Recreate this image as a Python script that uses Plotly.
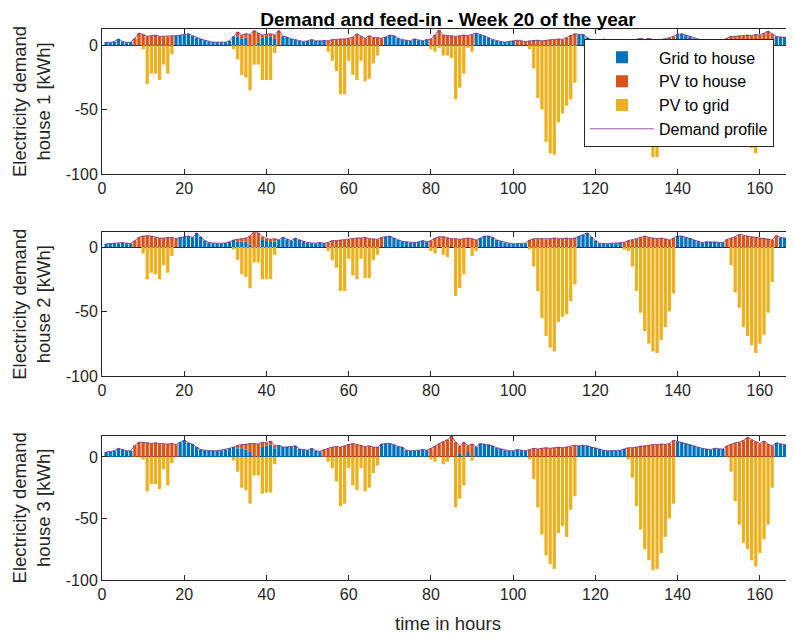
import plotly.graph_objects as go

hours = list(range(1, 169))
x_ticks = [0, 20, 40, 60, 80, 100, 120, 140, 160]
y_ticks = [-100, -50, 0]
y_ticktext = ["-100", "-50", "0"]

# ---------------- House 1 ----------------
grid_h1 = [
    2.5, 2.3, 3.0, 5.0, 3.0, 2.3, 2.5, 0, 0, 0, 0, 0, 0, 0, 0, 0, 0, 7.5, 8.0, 8.5, 9.0, 7.5, 6.0, 5.0,
    4.0, 3.0, 2.5, 2.5, 2.3, 2.5, 3.5, 7.0, 7.0, 5.0, 6.0, 0, 0, 2.0, 6.0, 7.0, 7.0, 5.0, 0, 7.0, 6.5, 5.0, 4.5, 3.5,
    3.0, 3.5, 4.5, 3.5, 3.5, 4.0, 0, 0, 0, 0, 0, 0, 0, 0, 0, 0, 0, 0, 0, 0, 6.5, 8.0, 7.5, 5.5,
    4.5, 4.0, 3.5, 5.0, 4.0, 3.5, 4.5, 0, 0, 0, 0, 0, 0, 0, 0, 0, 0, 0, 9.5, 8.5, 7.5, 6.0, 4.5, 3.5,
    3.0, 2.5, 3.0, 3.5, 0, 0, 0, 0, 0, 0, 0, 0, 0, 0, 0, 0, 0, 0, 0, 8.5, 8.5, 6.0, 4.5, 4.0,
    3.5, 5.0, 3.5, 3.0, 2.5, 2.5, 3.0, 0, 0, 0, 0, 0, 0, 0, 0, 0, 0, 0, 0, 8.5, 9.0, 8.0, 7.0, 5.5,
    4.5, 4.0, 3.5, 4.0, 4.5, 4.0, 4.0, 0, 0, 0, 0, 0, 0, 0, 0, 0, 0, 0, 0, 7.0, 6.5, 6.5, 6.0, 5.5,
]
pvhouse_h1 = [
    0, 0, 0, 0, 0, 0, 0, 5.5, 9.5, 8.5, 7.0, 7.5, 8.0, 7.0, 7.0, 7.0, 7.5, 0, 0, 0, 0, 0, 0, 0,
    0, 0, 0, 0, 0, 0, 0, 0, 3.5, 3.0, 3.0, 8.5, 11.5, 7.5, 2.0, 1.5, 2.0, 3.0, 11.5, 0, 0, 0, 0, 0,
    0, 0, 0, 0, 0, 0, 3.5, 4.5, 4.5, 5.0, 5.0, 5.5, 6.5, 9.0, 7.0, 5.5, 7.5, 6.0, 6.0, 5.5, 0, 0, 0, 0,
    0, 0, 0, 0, 0, 0, 0, 5.0, 8.0, 12.0, 8.0, 7.5, 7.5, 7.0, 7.5, 8.0, 7.5, 8.5, 0, 0, 0, 0, 0, 0,
    0, 0, 0, 0, 4.0, 3.5, 3.0, 3.5, 4.0, 4.0, 3.5, 4.0, 4.5, 4.5, 5.0, 4.5, 6.0, 8.0, 9.0, 0, 0, 0, 0, 0,
    0, 0, 0, 0, 0, 0, 0, 3.0, 4.0, 5.0, 5.5, 4.5, 5.5, 4.5, 4.0, 4.5, 5.0, 6.0, 7.0, 0, 0, 0, 0, 0,
    0, 0, 0, 0, 0, 0, 0, 5.5, 7.0, 7.0, 7.5, 7.5, 8.0, 7.5, 8.5, 8.0, 9.5, 11.0, 9.0, 0, 0, 0, 0, 0,
]
pvgrid_h1 = [
    0, 0, 0, 0, 0, 0, 0, 0, 0, -3, -30, -22, -22, -27, -15, -22, -7, 0, 0, 0, 0, 0, 0, 0,
    0, 0, 0, 0, 0, 0, 0, -3, -11, -23, -25, -35, -15, -15, -27, -27, -27, -6, 0, 0, 0, 0, 0, 0,
    0, 0, 0, 0, 0, 0, -5, -12, -20, -38, -38, -12, -23, -27, -12, -28, -26, -14, -8, 0, 0, 0, 0, 0,
    0, 0, 0, 0, 0, 0, 0, -3, -5, -2, -8, -8, -10, -42, -33, -22, -2, -5, 0, 0, 0, 0, 0, 0,
    0, 0, 0, 0, 0, 0, 0, -3, -18, -41, -50, -75, -84, -85, -60, -53, -47, -42, -29, 0, 0, 0, 0, 0,
    0, 0, 0, 0, 0, 0, 0, -3, -16, -36, -54, -68, -78, -87, -87, -76, -68, -40, -12, 0, 0, 0, 0, 0,
    0, 0, 0, 0, 0, 0, 0, -3, -14, -35, -48, -62, -72, -80, -84, -74, -68, -50, -26, 0, 0, 0, 0, 0,
]

# ---------------- House 2 ----------------
grid_h2 = [
    2.5, 2.8, 3.0, 3.0, 3.5, 3.0, 2.8, 0, 0, 0, 0, 0, 0, 0, 0, 0, 0, 0, 7.5, 8.0, 8.5, 7.5, 10.8, 8.0,
    5.0, 3.5, 3.0, 3.0, 3.0, 3.2, 4.0, 5.5, 4.0, 4.0, 4.0, 2.0, 0, 0, 6.0, 5.0, 4.5, 4.0, 5.5, 7.5, 6.0, 5.0, 7.0, 5.5,
    4.5, 3.5, 3.0, 3.0, 3.5, 3.0, 0, 0, 0, 0, 0, 0, 0, 0, 0, 0, 0, 0, 0, 0, 8.0, 8.5, 7.0, 5.5,
    4.5, 4.0, 3.5, 3.5, 4.0, 5.0, 4.0, 0, 0, 0, 0, 0, 0, 0, 0, 0, 0, 0, 0, 7.0, 8.5, 8.5, 7.5, 5.5,
    4.5, 3.5, 3.0, 2.5, 2.5, 2.5, 3.0, 0, 0, 0, 0, 0, 0, 0, 0, 0, 0, 0, 0, 8.5, 9.5, 11.0, 8.0, 5.0,
    3.0, 2.5, 2.5, 3.0, 3.0, 3.5, 0, 0, 0, 0, 0, 0, 0, 0, 0, 0, 0, 0, 0, 8.5, 8.5, 7.5, 7.0, 5.5,
    4.5, 3.5, 4.0, 4.0, 4.0, 3.5, 3.5, 0, 0, 0, 0, 0, 0, 0, 0, 0, 0, 0, 0, 0, 7.5, 7.0, 7.0, 7.5,
]
pvhouse_h2 = [
    0, 0, 0, 0, 0, 0, 0, 5.0, 7.5, 8.5, 8.8, 8.5, 7.5, 7.0, 7.0, 7.5, 7.5, 6.5, 0, 0, 0, 0, 0, 0,
    0, 0, 0, 0, 0, 0, 0, 0, 2.0, 2.5, 3.0, 6.5, 11.8, 11.0, 2.0, 1.5, 1.5, 2.5, 0, 0, 0, 0, 0, 0,
    0, 0, 0, 0, 0, 0, 3.5, 5.0, 5.0, 5.5, 5.5, 6.0, 6.5, 7.0, 7.0, 7.5, 6.5, 6.5, 6.0, 7.5, 0, 0, 0, 0,
    0, 0, 0, 0, 0, 0, 0, 5.0, 7.0, 8.0, 8.0, 7.0, 6.5, 6.5, 6.0, 6.5, 7.0, 6.5, 5.5, 0, 0, 0, 0, 0,
    0, 0, 0, 0, 0, 0, 0, 5.5, 6.5, 6.5, 6.5, 6.0, 6.5, 7.0, 6.5, 6.5, 7.0, 6.5, 7.0, 0, 0, 0, 0, 0,
    0, 0, 0, 0, 0, 0, 3.5, 5.0, 5.5, 6.5, 7.5, 8.5, 7.5, 7.0, 6.5, 7.0, 6.5, 5.5, 7.0, 0, 0, 0, 0, 0,
    0, 0, 0, 0, 0, 0, 0, 6.0, 7.0, 8.0, 10.0, 9.0, 8.5, 8.0, 7.5, 7.0, 7.0, 6.5, 5.5, 9.0, 0, 0, 0, 0,
]
pvgrid_h2 = [
    0, 0, 0, 0, 0, 0, 0, 0, 0, -5, -25, -20, -21, -25, -14, -20, -7, 0, 0, 0, 0, 0, 0, 0,
    0, 0, 0, 0, 0, 0, 0, -2, -10, -21, -23, -32, -12, -12, -25, -25, -25, -6, 0, 0, 0, 0, 0, 0,
    0, 0, 0, 0, 0, 0, -3, -10, -16, -34, -34, -9, -22, -25, -9, -24, -24, -10, -6, 0, 0, 0, 0, 0,
    0, 0, 0, 0, 0, 0, 0, -3, -5, 0, -6, -8, 0, -38, -32, -21, 0, -7, -3, 0, 0, 0, 0, 0,
    0, 0, 0, 0, 0, 0, 0, -2, -15, -34, -55, -69, -78, -81, -58, -54, -52, -42, -29, 0, 0, 0, 0, 0,
    0, 0, 0, 0, 0, 0, -2, -3, -15, -34, -51, -65, -75, -81, -82, -72, -62, -50, -36, 0, 0, 0, 0, 0,
    0, 0, 0, 0, 0, 0, 0, 0, -14, -35, -47, -62, -69, -76, -82, -75, -68, -51, -27, 0, 0, 0, 0, 0,
]

# ---------------- House 3 ----------------
grid_h3 = [
    4.0, 4.5, 5.0, 7.0, 6.0, 5.0, 5.0, 0, 0, 0, 0, 0, 0, 0, 0, 0, 0, 0, 12.0, 13.5, 11.5, 10.5, 8.0, 6.0,
    5.5, 5.0, 5.0, 5.0, 5.5, 6.0, 7.0, 8.0, 7.0, 7.0, 6.0, 4.0, 0, 0, 8.0, 9.0, 10.0, 7.0, 9.5, 8.0, 8.0, 8.5, 9.0, 6.5,
    6.0, 5.5, 7.0, 5.0, 4.5, 0, 0, 0, 0, 0, 0, 0, 0, 0, 0, 0, 0, 0, 0, 10.5, 11.0, 11.0, 10.0, 8.5,
    8.0, 5.5, 5.0, 5.0, 5.5, 6.0, 5.5, 0, 0, 0, 0, 0, 0, 0, 3.0, 0, 4.0, 0, 8.0, 11.0, 10.5, 10.0, 9.0, 7.5,
    6.5, 5.5, 5.0, 5.0, 6.0, 5.5, 5.0, 0, 0, 0, 0, 0, 0, 0, 0, 0, 0, 0, 0, 9.0, 9.5, 9.0, 8.0, 7.5,
    6.5, 5.5, 5.0, 5.0, 5.0, 5.5, 6.5, 0, 0, 0, 0, 0, 0, 0, 0, 0, 0, 0, 0, 12.5, 12.0, 11.0, 10.0, 9.0,
    8.0, 7.0, 6.5, 6.0, 7.0, 6.5, 6.5, 0, 0, 0, 0, 0, 0, 0, 0, 0, 0, 0, 0, 11.5, 10.5, 10.0, 10.0, 9.5,
]
pvhouse_h3 = [
    0, 0, 0, 0, 0, 0, 0, 9.5, 12.0, 12.0, 11.5, 11.0, 11.5, 11.0, 10.5, 10.5, 11.0, 10.0, 0, 0, 0, 0, 0, 0,
    0, 0, 0, 0, 0, 0, 0, 0, 2.5, 3.0, 4.5, 7.0, 11.0, 10.5, 4.0, 2.5, 3.0, 2.5, 0, 0, 0, 0, 0, 0,
    0, 0, 0, 0, 0, 6.0, 7.0, 8.0, 8.5, 8.0, 9.0, 10.5, 11.0, 10.0, 9.5, 8.5, 9.0, 8.0, 8.0, 0, 0, 0, 0, 0,
    0, 0, 0, 0, 0, 0, 0, 7.0, 9.0, 11.0, 12.5, 14.0, 17.0, 12.0, 6.0, 12.0, 5.0, 10.5, 0, 0, 0, 0, 0, 0,
    0, 0, 0, 0, 0, 0, 0, 6.0, 7.0, 6.5, 7.0, 7.5, 7.0, 7.5, 8.0, 7.5, 8.0, 8.5, 9.5, 0, 0, 0, 0, 0,
    0, 0, 0, 0, 0, 0, 0, 7.5, 7.5, 8.0, 9.0, 9.0, 9.5, 10.0, 10.0, 10.5, 10.0, 11.0, 13.5, 0, 0, 0, 0, 0,
    0, 0, 0, 0, 0, 0, 0, 9.0, 10.5, 11.5, 12.0, 13.5, 16.0, 14.0, 12.5, 11.0, 13.0, 10.5, 9.0, 0, 0, 0, 0, 0,
]
pvgrid_h3 = [
    0, 0, 0, 0, 0, 0, 0, 0, 0, -2, -28, -22, -22, -26, -10, -23, -5, 0, 0, 0, 0, 0, 0, 0,
    0, 0, 0, 0, 0, 0, 0, -3, -12, -25, -27, -38, -15, -15, -30, -29, -29, -6, 0, 0, 0, 0, 0, 0,
    0, 0, 0, 0, 0, 0, -4, -9, -20, -40, -38, -9, -23, -27, -9, -28, -25, -13, -7, 0, 0, 0, 0, 0,
    0, 0, 0, 0, 0, 0, 0, -2, -4, 0, -6, -4, 0, -41, -34, -23, 0, -3, 0, 0, 0, 0, 0, 0,
    0, 0, 0, 0, 0, 0, 0, -2, -18, -41, -63, -80, -87, -91, -62, -56, -65, -43, -32, 0, 0, 0, 0, 0,
    0, 0, 0, 0, 0, 0, 0, -2, -17, -40, -59, -75, -84, -92, -91, -78, -65, -50, -38, 0, 0, 0, 0, 0,
    0, 0, 0, 0, 0, 0, 0, 0, -12, -36, -55, -70, -75, -84, -89, -78, -67, -55, -25, 0, 0, 0, 0, 0,
]

houses = [
    ("1", grid_h1, pvhouse_h1, pvgrid_h1, 12.7),
    ("2", grid_h2, pvhouse_h2, pvgrid_h2, 11.4),
    ("3", grid_h3, pvhouse_h3, pvgrid_h3, 17.3),
]

C_BLUE = "#0072BD"
C_ORANGE = "#D95319"
C_YELLOW = "#EDB120"
C_PURPLE = "#7E2F8E"
AX = "#262626"
FONT = "Liberation Sans, Arial, Helvetica, sans-serif"

W, H = 786, 631

fig = go.Figure()
for i, (name, grid, pvh, pvg, ytop) in enumerate(houses):
    xa = "x" if i == 0 else f"x{i+1}"
    ya = "y" if i == 0 else f"y{i+1}"
    show = i == 0
    demand = [g + p for g, p in zip(grid, pvh)]
    fig.add_trace(go.Bar(x=hours, y=grid, name="Grid to house", marker_color=C_BLUE,
                         marker_line_width=0, xaxis=xa, yaxis=ya, showlegend=show))
    fig.add_trace(go.Bar(x=hours, y=pvh, name="PV to house", marker_color=C_ORANGE,
                         marker_line_width=0, xaxis=xa, yaxis=ya, showlegend=show))
    fig.add_trace(go.Bar(x=hours, y=pvg, name="PV to grid", marker_color=C_YELLOW,
                         marker_line_width=0, xaxis=xa, yaxis=ya, showlegend=show))
    fig.add_trace(go.Scatter(x=hours, y=demand, name="Demand profile", mode="lines",
                             line=dict(color=C_PURPLE, width=0.8), xaxis=xa, yaxis=ya,
                             showlegend=show))

domains = [[0.737, 1.0], [0.370, 0.631], [0.0, 0.262]]
layout = dict(
    width=W, height=H,
    margin=dict(l=94, r=0, t=21, b=59, autoexpand=False),
    paper_bgcolor="white", plot_bgcolor="white",
    barmode="relative", bargap=0.2,
    font=dict(family=FONT, color=AX, size=16),
    title=dict(text="<b>Demand and feed-in - Week 20 of the year</b>",
               x=0.5, xref="paper", xanchor="center",
               y=1 - 11 / H, yref="container", yanchor="middle",
               font=dict(family=FONT, size=19, color="black")),
    legend=dict(x=0.6965, y=0.981, xanchor="left", yanchor="top",
                bgcolor="white", bordercolor=AX, borderwidth=1,
                font=dict(family=FONT, size=16, color="black"),
                itemwidth=64, tracegroupgap=0, traceorder="normal"),
    showlegend=True,
)
for i, (name, grid, pvh, pvg, ytop) in enumerate(houses):
    xk = "xaxis" if i == 0 else f"xaxis{i+1}"
    yk = "yaxis" if i == 0 else f"yaxis{i+1}"
    ya = "y" if i == 0 else f"y{i+1}"
    xa = "x" if i == 0 else f"x{i+1}"
    layout[xk] = dict(
        domain=[0, 1], anchor=ya, range=[0, 168.3], automargin=False,
        tickvals=x_ticks, ticks="inside", ticklen=5, tickcolor=AX,
        showline=True, linecolor=AX, linewidth=1, mirror="ticks",
        showgrid=False, zeroline=False,
        tickfont=dict(size=16, color=AX),
        title=dict(text="time in hours" if i == 2 else "", font=dict(size=18.5, color=AX), standoff=14),
    )
    layout[yk] = dict(
        domain=domains[i], anchor=xa, range=[-100, ytop], automargin=False,
        tickvals=y_ticks, ticktext=y_ticktext, ticks="inside", ticklen=5, tickcolor=AX,
        showline=True, linecolor=AX, linewidth=1, mirror=False,
        showgrid=False, zeroline=True, zerolinecolor="#303030", zerolinewidth=1,
        tickfont=dict(size=16, color=AX),
        title=dict(text=f"Electricity demand<br>house {name} [kWh]",
                   font=dict(size=18.5, color=AX), standoff=10),
    )

fig.update_layout(**layout)
fig.write_html("out.html")
